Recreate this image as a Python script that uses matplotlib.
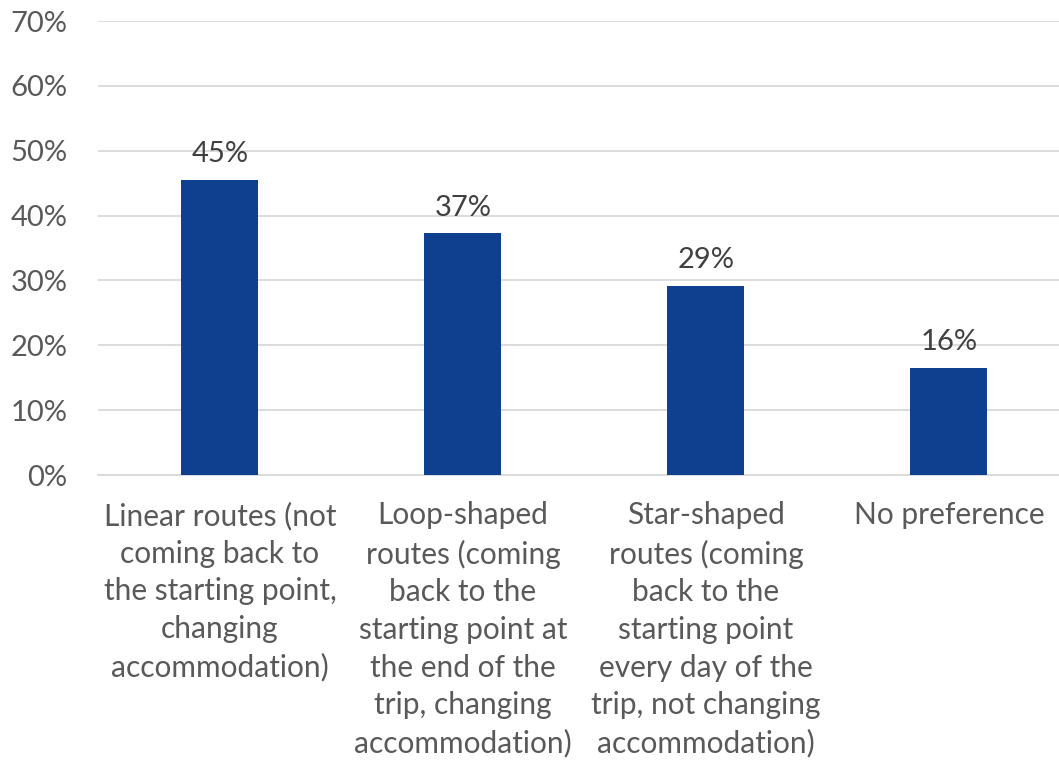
import matplotlib.pyplot as plt
from matplotlib.ticker import FuncFormatter

plt.rcParams['font.family'] = ['Lato', 'DejaVu Sans']

categories = [
    'Linear routes (not\ncoming back to\nthe starting point,\nchanging\naccommodation)',
    'Loop-shaped\nroutes (coming\nback to the\nstarting point at\nthe end of the\ntrip, changing\naccommodation)',
    'Star-shaped\nroutes (coming\nback to the\nstarting point\nevery day of the\ntrip, not changing\naccommodation)',
    'No preference',
]
values = [0.455, 0.373, 0.292, 0.165]
value_labels = ['45%', '37%', '29%', '16%']

text_color = '#595959'
bar_color = '#0F3F8F'

fig = plt.figure(figsize=(10.59, 7.66), dpi=100)
ax = fig.add_axes([98 / 1059, 1 - 475 / 766, 1 - 98 / 1059, (475 - 21) / 766])

x = range(len(values))
ax.bar(x, values, width=0.317, color=bar_color, zorder=3)

for xi, v, lab in zip(x, values, value_labels):
    ax.annotate(lab, (xi, v), xytext=(0, 9), textcoords='offset points',
                ha='center', va='bottom', fontsize=21, color='#404040')

ax.set_ylim(0, 0.70)
ax.set_xlim(-0.502, 3.453)
ax.set_yticks([i / 10 for i in range(8)])
ax.yaxis.set_major_formatter(FuncFormatter(lambda v, p: f'{v * 100:.0f}%'))
ax.grid(axis='y', color='#D9D9D9', linewidth=1.3, zorder=0)

ax.set_xticks(list(x))
ax.set_xticklabels(categories, fontsize=21.5, color=text_color, linespacing=1.42)
ax.tick_params(axis='y', labelsize=21, labelcolor=text_color, length=0, pad=22)
ax.tick_params(axis='x', length=0, pad=19)

for s in ['top', 'right', 'left']:
    ax.spines[s].set_visible(False)
ax.spines['bottom'].set_color('#D9D9D9')
ax.spines['bottom'].set_linewidth(1.3)

fig.savefig('out.png', dpi=100)
